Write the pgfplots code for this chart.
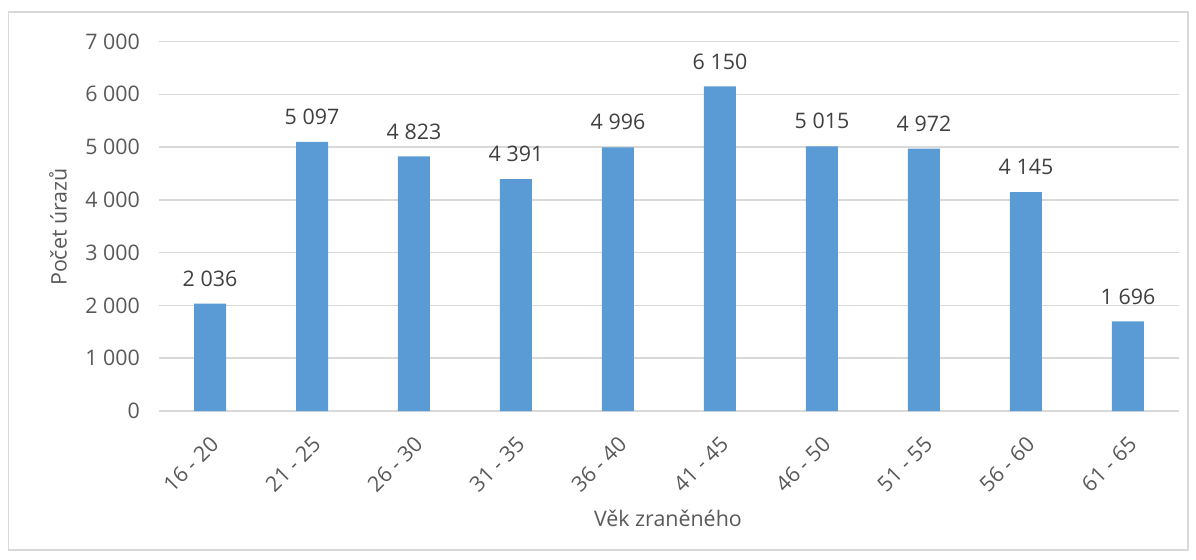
\documentclass[border=0pt]{standalone}
\usepackage{fontspec}
\setmainfont{Open Sans}
\usepackage{pgfplots}
\pgfplotsset{compat=1.18}
\definecolor{barc}{HTML}{5B9BD5}
\definecolor{tickc}{HTML}{595959}
\definecolor{lblc}{HTML}{404040}
\definecolor{gridc}{HTML}{D9D9D9}
\begin{document}
\begin{tikzpicture}
\useasboundingbox (0pt,0pt) rectangle (598pt,-279.5pt);
\draw[gridc, line width=0.6pt] (4.3pt,-6pt) rectangle (594pt,-275pt);
\begin{axis}[
  at={(79.5pt,-205.5pt)}, anchor=south west,
  scale only axis, width=510pt, height=184.75pt,
  ybar, bar width=16pt,
  xmin=-0.5, xmax=9.5, ymin=0, ymax=7000,
  ytick={0,1000,...,7000},
  xtick=data,
  xticklabels={16 - 20,21 - 25,26 - 30,31 - 35,36 - 40,41 - 45,46 - 50,51 - 55,56 - 60,61 - 65},
  axis line style={draw=none},
  major tick length=0pt,
  ymajorgrids, grid style={gridc, line width=0.75pt},
  /pgf/number format/assume math mode=true,
  /pgf/number format/1000 sep={\ },
  tick label style={font=\fontsize{10.7}{12}\selectfont, text=tickc},
  yticklabel style={xshift=-6pt},
  xticklabel style={xshift=-0.5pt, yshift=-7pt, rotate=45, anchor=north east},
  xlabel={Věk zraněného},
  ylabel={Počet úrazů},
  label style={font=\fontsize{10.7}{12}\selectfont, text=tickc},
  xlabel style={at={(rel axis cs:0.499,-0.292)}, anchor=center},
  ylabel style={at={(rel axis cs:-0.099,0.498)}, anchor=center, rotate=0},
  nodes near coords,
  every node near coord/.append style={font=\fontsize{10.7}{12}\selectfont, text=lblc, anchor=center, yshift=12.5pt},
]
\addplot[fill=barc, draw=none] coordinates {
(0,2036) (1,5097) (2,4823) (3,4391) (4,4996) (5,6150) (6,5015) (7,4972) (8,4145) (9,1696)};
\end{axis}
\end{tikzpicture}
\end{document}
